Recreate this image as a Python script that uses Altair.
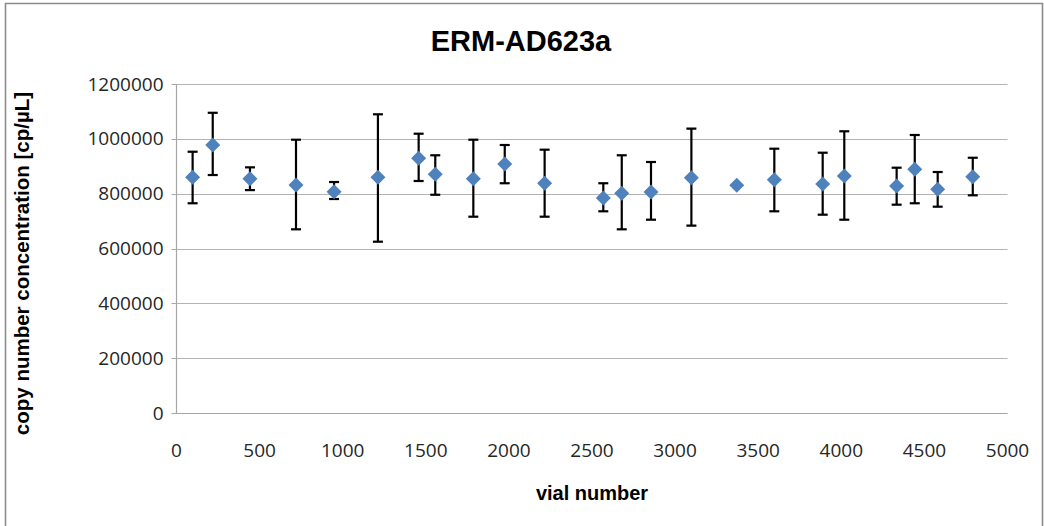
import altair as alt
import pandas as pd

# ---- data ----
vial = [100, 221, 445, 722, 951, 1215, 1460, 1560, 1789, 1978, 2218, 2571,
        2682, 2858, 3101, 3374, 3600, 3891, 4021, 4336, 4445, 4583, 4794]
conc = [859700, 977500, 854600, 831600, 807000, 859700, 929000, 870600,
        854600, 908200, 838000, 784200, 801300, 806000, 858200, 830500,
        851000, 835200, 864400, 828000, 888900, 816000, 862000]
upper = [953000, 1095000, 896000, 996800, 842500, 1089500, 1018700, 940000,
         996800, 977500, 960400, 838000, 940000, 915500, 1037000, None,
         964000, 949400, 1027500, 894700, 1014000, 879000, 931000]
lower = [765000, 868000, 813000, 670000, 780500, 624800, 846200, 796000,
         716000, 838000, 716000, 735700, 670000, 705000, 683200, None,
         735700, 723300, 705000, 759800, 765000, 752500, 794000]

x_ticks = [0, 500, 1000, 1500, 2000, 2500, 3000, 3500, 4000, 4500, 5000]
y_ticks = [0, 200000, 400000, 600000, 800000, 1000000, 1200000]

title_text = "ERM-AD623a"
x_title = "vial number"
y_title = "copy number concentration [cp/µL]"

df = pd.DataFrame({"vial": vial, "conc": conc, "hi": upper, "lo": lower})
err = df.dropna()

W, H = 831, 329
PL, PT = 176, 84

label_font = "Open Sans"
title_font = "Liberation Sans"

xscale = alt.Scale(domain=[0, 5000], nice=False, zero=False)
yscale = alt.Scale(domain=[0, 1200000], nice=False)

xaxis = alt.Axis(values=x_ticks, title=x_title, grid=False, tickSize=0,
                 labelPadding=28, labelFont=label_font, labelFontSize=19,
                 labelColor="#262626", format="d", domainColor="#A6A6A6",
                 domainWidth=1.2, titleFont=title_font, titleFontSize=20,
                 titleFontWeight="bold", titleColor="black",
                 titleY=80, titleBaseline="middle", labelFlush=False)
yaxis = alt.Axis(values=y_ticks, title=y_title, grid=True, gridColor="#B3B3B3",
                 gridWidth=1.2, tickSize=5, tickColor="#A6A6A6",
                 labelPadding=8, labelFont=label_font, labelFontSize=19,
                 labelColor="#262626", format="d", domainColor="#A6A6A6",
                 domainWidth=1.2, titleFont=title_font, titleFontSize=20.5,
                 titleFontWeight="bold", titleColor="black",
                 titleX=-154, titleY=179, titleBaseline="middle",
                 titleAngle=-90, titleAlign="center")

X = alt.X("vial:Q", scale=xscale, axis=xaxis)

base = alt.Chart(pd.DataFrame({"a": [0]}))

frame = base.mark_rect(
    fill="transparent", stroke="#8C8C8C", strokeWidth=1.6
).encode(x=alt.value(5.5 - PL), x2=alt.value(1042.5 - PL),
         y=alt.value(3.5 - PT), y2=alt.value(560 - PT))

title = base.mark_text(
    text=title_text, font=title_font, fontSize=29, fontWeight="bold",
    color="black", align="center", baseline="middle"
).encode(x=alt.value(521 - PL), y=alt.value(42 - PT))

rule = alt.Chart(err).mark_rule(color="black", strokeWidth=2.2).encode(
    x=X, y=alt.Y("lo:Q", scale=yscale, axis=yaxis), y2="hi:Q")
cap_hi = alt.Chart(err).mark_tick(orient="horizontal", color="black",
                                  size=10, thickness=2.2, opacity=1).encode(
    x=X, y=alt.Y("hi:Q", scale=yscale, axis=yaxis))
cap_lo = alt.Chart(err).mark_tick(orient="horizontal", color="black",
                                  size=10, thickness=2.2, opacity=1).encode(
    x=X, y=alt.Y("lo:Q", scale=yscale, axis=yaxis))
pts = alt.Chart(df).mark_point(shape="diamond", filled=True, size=225,
                               color="#4F81BD", opacity=1, strokeWidth=0).encode(
    x=X, y=alt.Y("conc:Q", scale=yscale, axis=yaxis))

chart = alt.layer(frame, title, rule, cap_hi, cap_lo, pts).properties(
    width=W, height=H,
    autosize=alt.AutoSizeParams(type="none"),
    padding={"left": PL, "top": PT, "right": 1044 - PL - W, "bottom": 526 - PT - H},
    background="white",
).configure_view(strokeWidth=0)

chart.save("out.html", embed_options={"renderer": "svg", "actions": False})
